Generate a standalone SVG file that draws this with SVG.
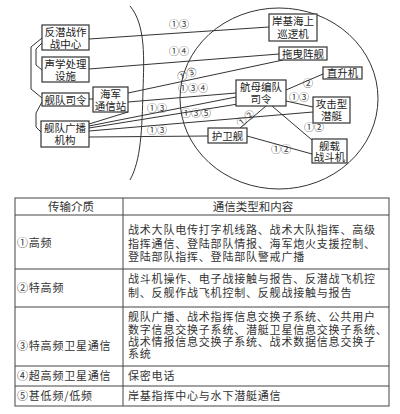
<svg xmlns="http://www.w3.org/2000/svg" width="400" height="414" viewBox="0 0 400 414">
<style>
.bx{fill:#fff;stroke:#333;stroke-width:1.2}
.t{font-family:"Noto Sans CJK SC","Noto Sans",sans-serif;font-size:10.5px;fill:#222;text-anchor:middle}
.lb{font-family:"Noto Sans CJK SC","Noto Sans",sans-serif;font-size:10px;fill:#333;text-anchor:middle}
.ln{fill:none;stroke:#333;stroke-width:1}
.tb{fill:none;stroke:#444;stroke-width:1}
.tt{font-family:"Noto Sans CJK SC","Noto Sans",sans-serif;font-size:11px;letter-spacing:0.8px;fill:#333}
.th{font-family:"Noto Sans CJK SC","Noto Sans",sans-serif;font-size:11.5px;fill:#333;text-anchor:middle}
</style>
<rect width="400" height="414" fill="#fff"/>
<g id="frame">
<path class="ln" d="M130,6 C146,25 144,60 143,90 C142,130 141,160 130,180"/>
<ellipse class="ln" cx="279" cy="98.5" rx="99" ry="90.5"/>
</g>
<g id="connectors">
<path class="ln" d="M42,38 L31,47 L31,89 L42,98"/>
<path class="ln" d="M42,43 L36,49 L36,65 L42,70"/>
<path class="ln" d="M42,102 L36,113 L36,127 L41,132"/>
<path class="ln" d="M89,39 L269,27"/>
<path class="ln" d="M89,69 L279,54"/>
<path class="ln" d="M89,99 L93,99"/>
<path class="ln" d="M128,93 L283,60"/>
<path class="ln" d="M128,102 L236,93"/>
<path class="ln" d="M89,124 L128,112"/>
<path class="ln" d="M89,126 L236,97"/>
<path class="ln" d="M89,128 L238,104"/>
<path class="ln" d="M89,131 L313,112"/>
<path class="ln" d="M89,137 L208,136"/>
<path class="ln" d="M240,128 L266,106"/>
<path class="ln" d="M323,74 L286,90"/>
<path class="ln" d="M286,101 L313,107"/>
<path class="ln" d="M272,106 L312,140"/>
<path class="ln" d="M247,136 L312,154"/>
</g>
<g id="labels">
<text class="lb" x="179" y="28">①③</text>
<text class="lb" x="179" y="55">①④</text>
<text class="lb" x="187" y="78" transform="rotate(-20 187 75)">①③</text>
<text class="lb" x="193" y="92">①③④</text>
<text class="lb" x="157" y="112">①③</text>
<text class="lb" x="196" y="117">①③⑤</text>
<text class="lb" x="157" y="134">①③</text>
<text class="lb" x="246" y="122" transform="rotate(-40 246 119)">①②</text>
<text class="lb" x="308" y="87">②</text>
<text class="lb" x="299" y="101">①③</text>
<text class="lb" x="314" y="131">①②</text>
<text class="lb" x="281" y="153">①②</text>
</g>
<g id="n1"><rect class="bx" x="42" y="25" width="47" height="25"/><text class="t" x="65.5" y="35.5">反潜战作</text><text class="t" x="65.5" y="47.5">战中心</text></g>
<g id="n2"><rect class="bx" x="42" y="57" width="47" height="25"/><text class="t" x="65.5" y="67.5">声学处理</text><text class="t" x="65.5" y="79.5">设施</text></g>
<g id="n3"><rect class="bx" x="42" y="93" width="47" height="13"/><text class="t" x="65.5" y="103.5">舰队司令</text></g>
<g id="n4"><rect class="bx" x="93" y="87" width="35" height="25"/><text class="t" x="110.5" y="97.5">海军</text><text class="t" x="110.5" y="109.5">通信站</text></g>
<g id="n5"><rect class="bx" x="41" y="121" width="48" height="26"/><text class="t" x="65" y="131.5">舰队广播</text><text class="t" x="65" y="144">机构</text></g>
<g id="n6"><rect class="bx" x="269" y="14" width="48" height="27"/><text class="t" x="293" y="25">岸基海上</text><text class="t" x="293" y="38">巡逻机</text></g>
<g id="n7"><rect class="bx" x="279" y="47" width="48" height="13"/><text class="t" x="303" y="57.5">拖曳阵舰</text></g>
<g id="n8"><rect class="bx" x="323" y="67" width="39" height="12"/><text class="t" x="342.5" y="77">直升机</text></g>
<g id="n9"><rect class="bx" x="236" y="80" width="50" height="26"/><text class="t" x="261" y="90.5">航母编队</text><text class="t" x="261" y="103">司令</text></g>
<g id="n10"><rect class="bx" x="313" y="97" width="37" height="26"/><text class="t" x="331.5" y="107.5">攻击型</text><text class="t" x="331.5" y="120">潜艇</text></g>
<g id="n11"><rect class="bx" x="208" y="128" width="39" height="15"/><text class="t" x="227.5" y="139.5">护卫舰</text></g>
<g id="n12"><rect class="bx" x="312" y="139" width="35" height="24"/><text class="t" x="329.5" y="149.5">舰载</text><text class="t" x="329.5" y="161">战斗机</text></g>
<g id="table">
<rect class="tb" x="15" y="198" width="374" height="208"/>
<line class="tb" x1="123" y1="198" x2="123" y2="406"/>
<line class="tb" x1="15" y1="215" x2="389" y2="215"/>
<line class="tb" x1="15" y1="269" x2="389" y2="269"/>
<line class="tb" x1="15" y1="307" x2="389" y2="307"/>
<line class="tb" x1="15" y1="366" x2="389" y2="366"/>
<line class="tb" x1="15" y1="386" x2="389" y2="386"/>
<text class="th" x="71" y="211">传输介质</text>
<text class="th" x="253" y="211">通信类型和内容</text>
<text class="tt" x="17" y="247">①高频</text>
<text class="tt" x="128" y="234">战术大队电传打字机线路、战术大队指挥、高级</text>
<text class="tt" x="128" y="247.5">指挥通信、登陆部队情报、海军炮火支援控制、</text>
<text class="tt" x="128" y="261">登陆部队指挥、登陆部队警戒广播</text>
<text class="tt" x="17" y="292">②特高频</text>
<text class="tt" x="128" y="283">战斗机操作、电子战接触与报告、反潜战飞机控</text>
<text class="tt" x="128" y="296.5">制、反舰作战飞机控制、反舰战接触与报告</text>
<text class="tt" x="17" y="350">③特高频卫星通信</text>
<text class="tt" x="128" y="321">舰队广播、战术指挥信息交换子系统、公共用户</text>
<text class="tt" x="128" y="333.5">数字信息交换子系统、潜艇卫星信息交换子系统、</text>
<text class="tt" x="128" y="346">战术情报信息交换子系统、战术数据信息交换子</text>
<text class="tt" x="128" y="358">系统</text>
<text class="tt" x="17" y="380">④超高频卫星通信</text>
<text class="tt" x="128" y="380">保密电话</text>
<text class="tt" x="17" y="400">⑤甚低频/低频</text>
<text class="tt" x="128" y="400">岸基指挥中心与水下潜艇通信</text>
</g>
</svg>
